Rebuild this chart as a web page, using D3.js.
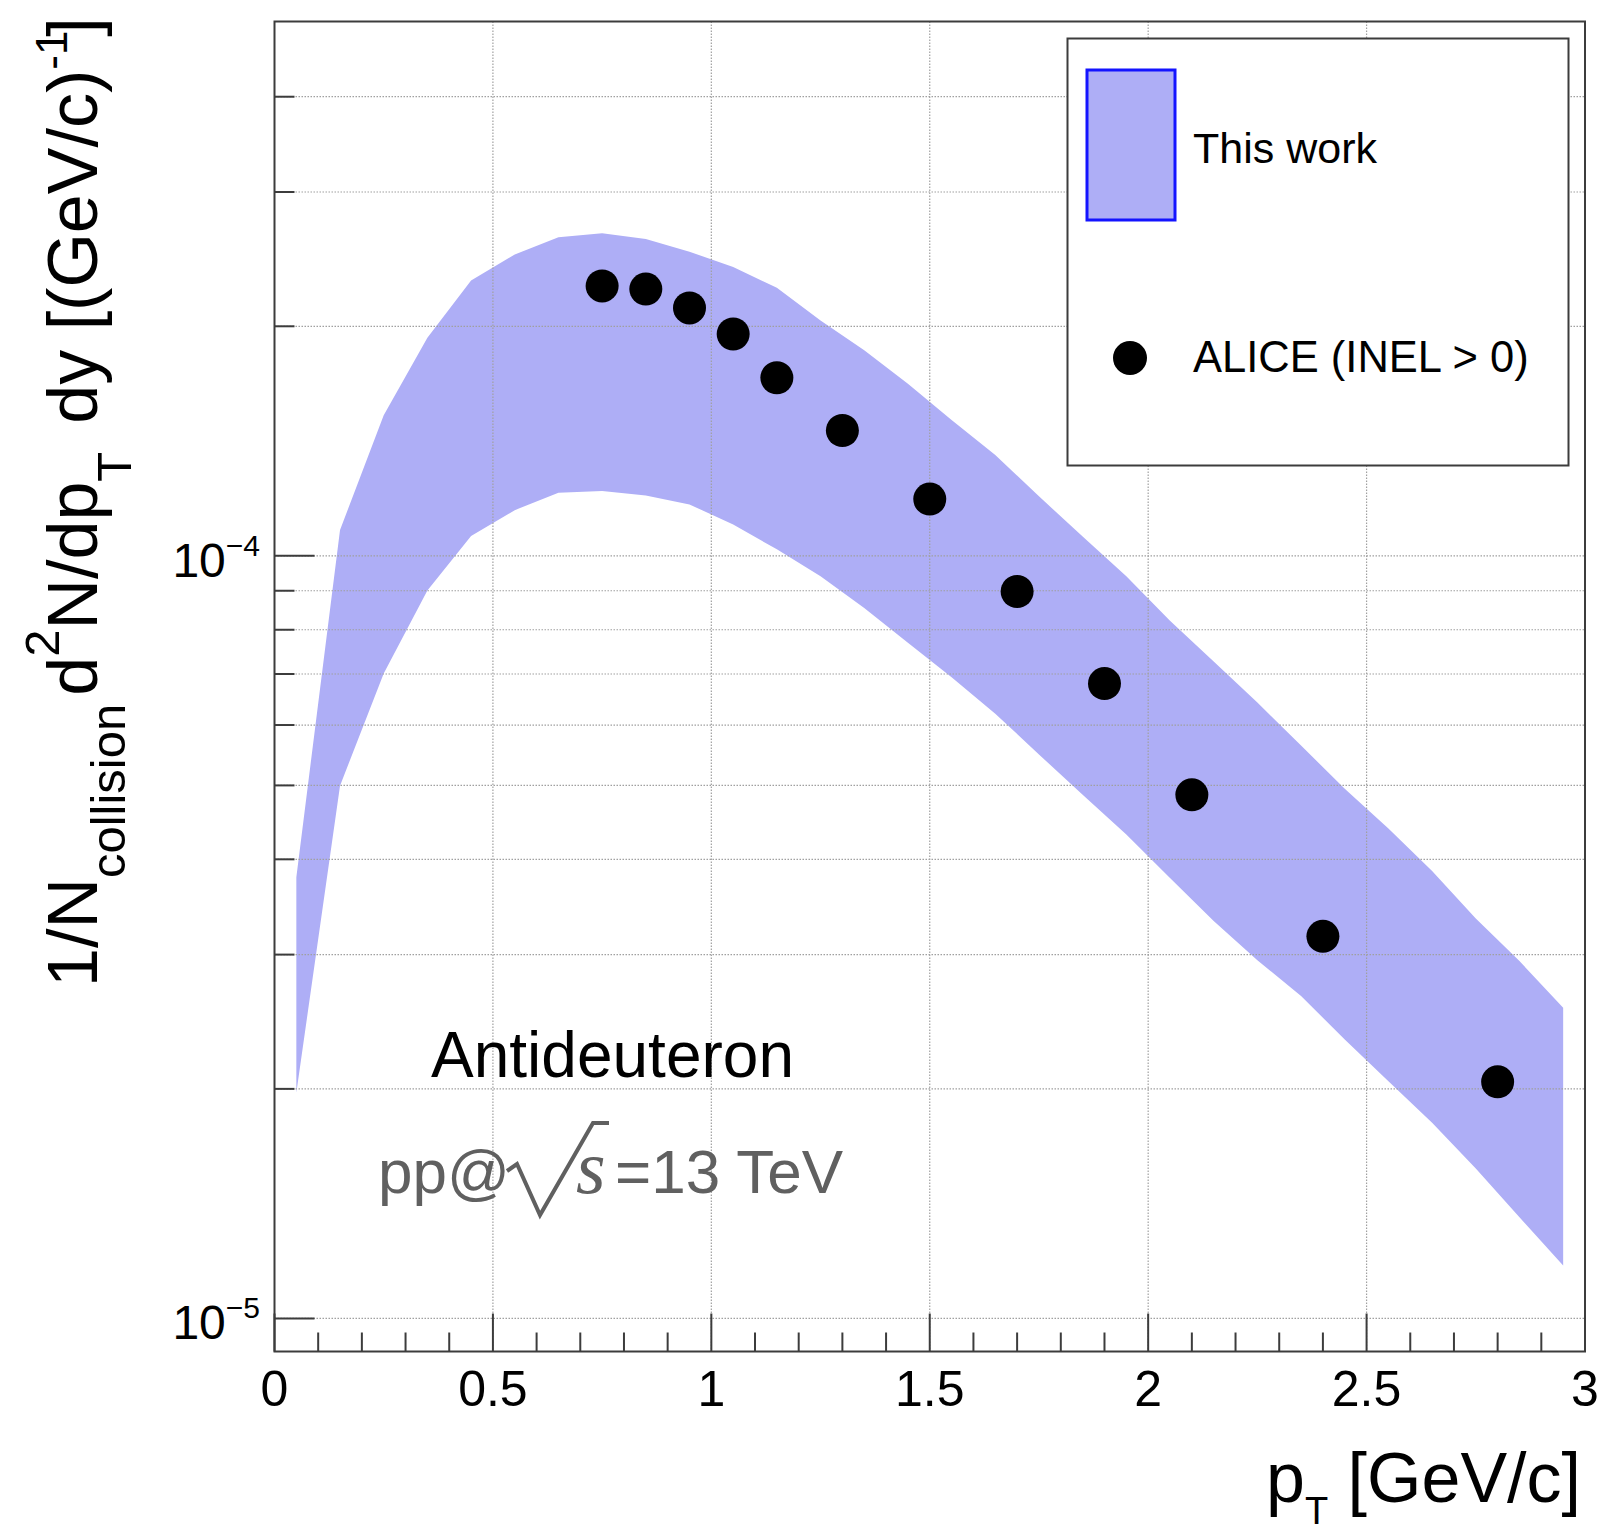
<!DOCTYPE html>
<html>
<head>
<meta charset="utf-8">
<script src="https://cdn.jsdelivr.net/npm/d3@7"></script>
<style>
  html, body { margin: 0; padding: 0; background: #fff; }
  svg { display: block; }
</style>
</head>
<body>
<svg id="chart" width="1599" height="1534"></svg>
<script>
// Model band: bin centres (GeV/c) with upper and lower yield edges
const bandPt = [0.05, 0.15, 0.25, 0.35, 0.45, 0.55, 0.65, 0.75, 0.85, 0.95,
                1.05, 1.15, 1.25, 1.35, 1.45, 1.55, 1.65, 1.75, 1.85, 1.95,
                2.05, 2.15, 2.25, 2.35, 2.45, 2.55, 2.65, 2.75, 2.85, 2.95];
const bandUpper = [3.79e-5, 1.081e-4, 1.529e-4, 1.932e-4, 2.297e-4, 2.484e-4, 2.617e-4, 2.648e-4, 2.603e-4, 2.505e-4,
                   2.392e-4, 2.246e-4, 2.036e-4, 1.861e-4, 1.681e-4, 1.507e-4, 1.356e-4, 1.197e-4, 1.06e-4, 9.40e-5,
                   8.22e-5, 7.27e-5, 6.42e-5, 5.64e-5, 4.95e-5, 4.39e-5, 3.86e-5, 3.346e-5, 2.942e-5, 2.555e-5];
const bandLower = [1.977e-5, 4.996e-5, 7.008e-5, 9.01e-5, 1.062e-4, 1.148e-4, 1.21e-4, 1.216e-4, 1.2e-4, 1.168e-4,
                   1.099e-4, 1.02e-4, 9.40e-5, 8.54e-5, 7.69e-5, 6.93e-5, 6.21e-5, 5.49e-5, 4.86e-5, 4.31e-5,
                   3.78e-5, 3.32e-5, 2.95e-5, 2.647e-5, 2.322e-5, 2.047e-5, 1.805e-5, 1.573e-5, 1.357e-5, 1.173e-5];

// ALICE INEL>0 antideuteron spectrum
const alicePt = [0.75, 0.85, 0.95, 1.05, 1.15, 1.3, 1.5, 1.7, 1.9, 2.1, 2.4, 2.8];
const aliceYield = [2.259e-4, 2.238e-4, 2.114e-4, 1.954e-4, 1.712e-4, 1.460e-4, 1.187e-4,
                    8.98e-5, 6.80e-5, 4.86e-5, 3.17e-5, 2.043e-5];

// Axis ticks
const xMajorTicks = [0, 0.5, 1, 1.5, 2, 2.5, 3];
const xTickLabels = ["0", "0.5", "1", "1.5", "2", "2.5", "3"];
const xMinorTicks = [0.1, 0.2, 0.3, 0.4, 0.6, 0.7, 0.8, 0.9, 1.1, 1.2, 1.3, 1.4, 1.6, 1.7, 1.8, 1.9,
                     2.1, 2.2, 2.3, 2.4, 2.6, 2.7, 2.8, 2.9];
const yMajorTicks = [1e-5, 1e-4];
const yMajorExponents = ["\u22125", "\u22124"];
const yMinorTicks = [2e-5, 3e-5, 4e-5, 5e-5, 6e-5, 7e-5, 8e-5, 9e-5, 2e-4, 3e-4, 4e-4];

const legendLabels = ["This work", "ALICE (INEL > 0)"];

// ---------------------------------------------------------------
const SANS = "'Liberation Sans', Arial, Helvetica, sans-serif";
const SERIF = "'Liberation Serif', 'DejaVu Serif', 'Times New Roman', serif";

const svg = d3.select("#chart").style("font-family", SANS);
const frame = { left: 274.5, right: 1585, top: 21.5, bottom: 1351.5 };

const x = d3.scaleLinear().domain([0, 3]).range([frame.left, frame.right]);
const y = d3.scaleLog().domain([9.05e-6, 5.02e-4]).range([frame.bottom, frame.top]);

const bandFill = "#aeaef6";
const gridColor = "#a0a0a0";
const axisColor = "#3c3c3c";

svg.append("rect").attr("width", 1599).attr("height", 1534).attr("fill", "#fff");

// model band
const bandData = bandPt.map((p, i) => ({ p, lo: bandLower[i], hi: bandUpper[i] }));
svg.append("path")
  .datum(bandData)
  .attr("fill", bandFill)
  .attr("d", d3.area().x(d => x(d.p)).y0(d => y(d.lo)).y1(d => y(d.hi)));

// grid
const grid = svg.append("g").attr("stroke", gridColor).attr("stroke-width", 1.2)
  .attr("stroke-dasharray", "1.5,1.5").attr("fill", "none");
grid.selectAll("line.gx").data(xMajorTicks.slice(1, -1)).join("line")
  .attr("x1", d => x(d)).attr("x2", d => x(d))
  .attr("y1", frame.top).attr("y2", frame.bottom);
grid.selectAll("line.gy").data(yMajorTicks.concat(yMinorTicks)).join("line")
  .attr("y1", d => y(d)).attr("y2", d => y(d))
  .attr("x1", frame.left).attr("x2", frame.right);

// ticks
const ticks = svg.append("g").attr("stroke", axisColor).attr("stroke-width", 2);
ticks.selectAll("line.xM").data(xMajorTicks).join("line")
  .attr("x1", d => x(d)).attr("x2", d => x(d))
  .attr("y1", frame.bottom).attr("y2", frame.bottom - 38);
ticks.selectAll("line.xm").data(xMinorTicks).join("line")
  .attr("x1", d => x(d)).attr("x2", d => x(d))
  .attr("y1", frame.bottom).attr("y2", frame.bottom - 19);
ticks.selectAll("line.yM").data(yMajorTicks).join("line")
  .attr("y1", d => y(d)).attr("y2", d => y(d))
  .attr("x1", frame.left).attr("x2", frame.left + 40);
ticks.selectAll("line.ym").data(yMinorTicks).join("line")
  .attr("y1", d => y(d)).attr("y2", d => y(d))
  .attr("x1", frame.left).attr("x2", frame.left + 20);

// frame
svg.append("rect")
  .attr("x", frame.left).attr("y", frame.top)
  .attr("width", frame.right - frame.left).attr("height", frame.bottom - frame.top)
  .attr("fill", "none").attr("stroke", axisColor).attr("stroke-width", 2);

// x tick labels
svg.append("g").selectAll("text").data(xMajorTicks).join("text")
  .attr("x", d => x(d)).attr("y", frame.bottom + 54)
  .attr("text-anchor", "middle").attr("font-size", 50).attr("fill", "#000")
  .text((d, i) => xTickLabels[i]);

// y tick labels (10^n)
const yl = svg.append("g").selectAll("text").data(yMajorTicks).join("text")
  .attr("x", 260).attr("y", d => y(d) + 21)
  .attr("text-anchor", "end").attr("font-size", 48).attr("fill", "#000");
yl.append("tspan").text("10");
yl.append("tspan").attr("font-size", 30).attr("dy", -21).text((d, i) => yMajorExponents[i]);

// x axis title
const xt = svg.append("text")
  .attr("x", 1581).attr("y", 1502)
  .attr("text-anchor", "end").attr("font-size", 70).attr("fill", "#000");
xt.append("tspan").text("p");
xt.append("tspan").attr("font-size", 38).attr("dy", 22).text("T");
xt.append("tspan").attr("dy", -22).text(" [GeV/c]");

// y axis title, reading bottom to top
const yt = svg.append("text")
  .attr("transform", "translate(97,987) rotate(-90)")
  .attr("text-anchor", "start").attr("font-size", 70).attr("fill", "#000");
yt.append("tspan").text("1/N");
yt.append("tspan").attr("font-size", 49).attr("dy", 28).text("collision");
yt.append("tspan").attr("dx", 8).attr("dy", -28).text("d");
yt.append("tspan").attr("font-size", 49).attr("dy", -38).text("2");
yt.append("tspan").attr("dy", 38).text("N/dp");
yt.append("tspan").attr("font-size", 49).attr("dy", 34).text("T");
yt.append("tspan").attr("dx", 28).attr("dy", -34).text("dy");
yt.append("tspan").text(" [(GeV/c)");
yt.append("tspan").attr("font-size", 44).attr("dy", -30).text("-1");
yt.append("tspan").attr("dx", -6).attr("dy", 30).text("]");

// ALICE points
svg.append("g").selectAll("circle").data(alicePt).join("circle")
  .attr("cx", d => x(d)).attr("cy", (d, i) => y(aliceYield[i]))
  .attr("r", 16.5).attr("fill", "#000");

// annotations
svg.append("text")
  .attr("x", 612.5).attr("y", 1077)
  .attr("text-anchor", "middle").attr("font-size", 64).attr("fill", "#000")
  .text("Antideuteron");

const grey = "#606060";
svg.append("text")
  .attr("x", 510).attr("y", 1193)
  .attr("text-anchor", "end").attr("font-size", 62).attr("fill", grey)
  .text("pp@");
svg.append("path")
  .attr("d", "M507,1171 L517,1164 L540,1215 L593,1123 L609,1123")
  .attr("fill", "none").attr("stroke", grey).attr("stroke-width", 4)
  .attr("stroke-linejoin", "miter");
svg.append("text")
  .attr("x", 576).attr("y", 1193)
  .style("font-family", SERIF).style("font-style", "italic")
  .attr("font-size", 76).attr("fill", grey)
  .text("s");
svg.append("text")
  .attr("x", 615).attr("y", 1193)
  .attr("font-size", 62).attr("fill", grey)
  .text("=13 TeV");

// legend
const lg = svg.append("g");
lg.append("rect")
  .attr("x", 1067.5).attr("y", 38.5).attr("width", 501).attr("height", 427)
  .attr("fill", "#fff").attr("stroke", "#3c3c3c").attr("stroke-width", 2);
lg.append("rect")
  .attr("x", 1087).attr("y", 70).attr("width", 88).attr("height", 150)
  .attr("fill", bandFill).attr("stroke", "#1414ff").attr("stroke-width", 3);
lg.append("text")
  .attr("x", 1193).attr("y", 163).attr("font-size", 43).attr("fill", "#000")
  .text(legendLabels[0]);
lg.append("circle")
  .attr("cx", 1130).attr("cy", 358).attr("r", 17).attr("fill", "#000");
lg.append("text")
  .attr("x", 1193).attr("y", 372).attr("font-size", 43.5).attr("fill", "#000")
  .text(legendLabels[1]);
</script>
</body>
</html>
